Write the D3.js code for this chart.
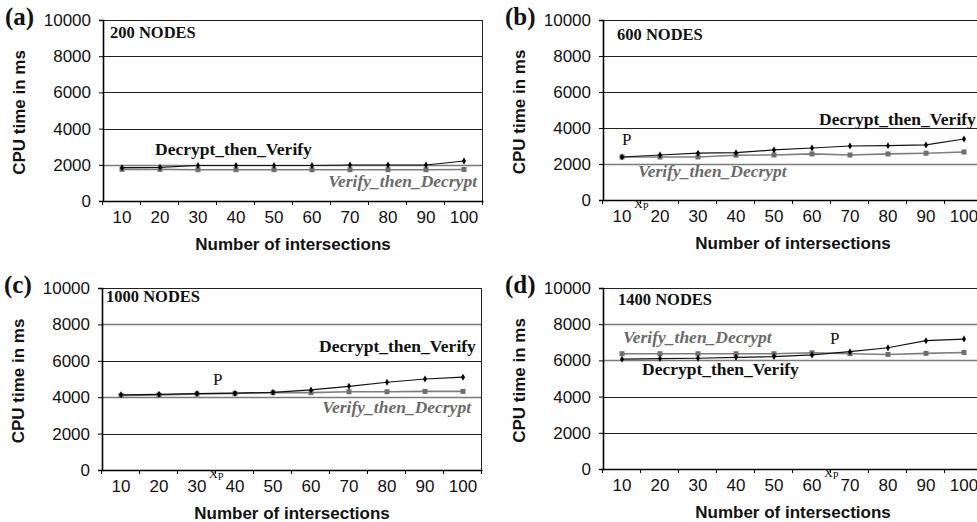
<!DOCTYPE html>
<html>
<head>
<meta charset="utf-8">
<script src="https://cdn.jsdelivr.net/npm/d3@7/dist/d3.min.js"></script>
<style>
  html, body { margin: 0; padding: 0; background: #fff; }
  svg { display: block; }
</style>
</head>
<body>
<svg id="chart" width="977" height="522"></svg>
<script>
// Number of intersections on the x axis
const intersections = ["10", "20", "30", "40", "50", "60", "70", "80", "90", "100"];
const yTicks = [0, 2000, 4000, 6000, 8000, 10000];

// CPU time (ms) per scheme, one pair of series per network size
const decrypt200 = [1840, 1860, 1960, 1960, 1960, 1960, 1990, 1990, 1990, 2210];
const verify200 = [1750, 1750, 1730, 1730, 1730, 1730, 1730, 1730, 1730, 1740];
const decrypt600 = [2390, 2500, 2600, 2630, 2780, 2890, 3000, 3020, 3060, 3390];
const verify600 = [2390, 2390, 2390, 2490, 2500, 2560, 2500, 2560, 2600, 2670];
const decrypt1000 = [4130, 4160, 4200, 4220, 4270, 4400, 4600, 4820, 5000, 5100];
const verify1000 = [4100, 4120, 4180, 4200, 4250, 4250, 4300, 4300, 4320, 4320];
const decrypt1400 = [6070, 6100, 6120, 6170, 6210, 6300, 6480, 6700, 7090, 7180];
const verify1400 = [6370, 6370, 6370, 6370, 6370, 6420, 6370, 6330, 6390, 6440];

const panelTags = ["(a)", "(b)", "(c)", "(d)"];
const nodeTitles = ["200 NODES", "600 NODES", "1000 NODES", "1400 NODES"];
const seriesNames = ["Decrypt_then_Verify", "Verify_then_Decrypt"];
const crossLabel = "P";
// crossing point category (the "xP" tick marker sits right after it); null = none
const crossAfter = [null, "10", "30", "60"];

const SANS = "'Liberation Sans', Arial, Helvetica, sans-serif";
const SERIF = "'Liberation Serif', 'Times New Roman', Times, serif";

// Layout for each panel: plot frame and where its annotations sit (px, relative to frame)
const panels = [
  { x0: 103, top: 20, bottom: 201, dec: decrypt200, ver: verify200,
    grayGrid: [2000],
    nodes: [7, 18], decLbl: [52, 135, "start"], verLbl: [374, 167, "end"], p: null },
  { x0: 603, top: 20, bottom: 200, dec: decrypt600, ver: verify600,
    grayGrid: [2000],
    nodes: [14, 20], decLbl: [216, 105, "start"], verLbl: [35, 157, "start"], p: [19, 125] },
  { x0: 102, top: 288, bottom: 470, dec: decrypt1000, ver: verify1000,
    grayGrid: [8000, 4000],
    nodes: [4, 14], decLbl: [217, 64, "start"], verLbl: [369, 125, "end"], p: [111, 97] },
  { x0: 603, top: 288, bottom: 469, dec: decrypt1400, ver: verify1400,
    grayGrid: [8000, 6000],
    nodes: [15, 17], decLbl: [39, 87, "start"], verLbl: [20, 55, "start"], p: [227, 56] }
];

const svg = d3.select("#chart");
const bandW = 38;

panels.forEach((p, i) => {
  const x = d3.scaleBand().domain(intersections)
    .range([p.x0, p.x0 + bandW * intersections.length]).padding(0);
  const y = d3.scaleLinear().domain([0, 10000]).range([p.bottom, p.top]);
  const right = p.x0 + bandW * intersections.length;
  const g = svg.append("g");

  // horizontal grid lines
  g.selectAll("line.grid").data(yTicks.filter(v => v > 0)).join("line")
    .attr("x1", p.x0).attr("x2", right)
    .attr("y1", d => Math.round(y(d)) + 0.5).attr("y2", d => Math.round(y(d)) + 0.5)
    .attr("stroke", d => p.grayGrid.includes(d) ? "#7a7a7a" : "#222")
    .attr("stroke-width", d => p.grayGrid.includes(d) ? 1.6 : 1);

  // right frame edge
  g.append("line")
    .attr("x1", right - 0.5).attr("x2", right - 0.5)
    .attr("y1", y(10000)).attr("y2", p.bottom + 4)
    .attr("stroke", "#222").attr("stroke-width", 1);

  // y axis
  const yAxis = d3.axisLeft(y).tickValues(yTicks).tickSize(4).tickPadding(8)
    .tickFormat(d3.format("d"));
  const ya = g.append("g").attr("transform", `translate(${p.x0},0)`).call(yAxis);
  ya.select(".domain").attr("stroke", "#000").attr("stroke-width", 1.6);
  ya.selectAll(".tick line").attr("stroke", "#000");
  ya.selectAll("text").attr("font-family", SANS).attr("font-size", 17)
    .attr("fill", "#111");

  // x axis: labels centred in bands, tick marks on band edges
  const xa = g.append("g").attr("transform", `translate(0,${p.bottom})`)
    .call(d3.axisBottom(x).tickSize(0).tickPadding(10));
  xa.select(".domain").attr("stroke", "#000").attr("stroke-width", 1.4);
  xa.selectAll("text").attr("font-family", SANS).attr("font-size", 17)
    .attr("fill", "#111");
  const edges = intersections.map(c => x(c)).concat([right]);
  g.selectAll("line.xt").data(edges).join("line")
    .attr("x1", d => d - 0.5).attr("x2", d => d - 0.5)
    .attr("y1", p.bottom).attr("y2", p.bottom + 4)
    .attr("stroke", "#000").attr("stroke-width", 1);

  // crossing-point marker among the tick labels
  if (crossAfter[i]) {
    const cx = x(crossAfter[i]) + 31;
    const t = g.append("text").attr("x", cx).attr("y", p.bottom + 8)
      .attr("font-family", SERIF).attr("fill", "#111");
    t.append("tspan").attr("font-size", 12).text("X");
    t.append("tspan").attr("font-size", 10.5).attr("dy", 2).text("P");
  }

  // axis titles
  g.append("text")
    .attr("x", p.x0 + bandW * 5).attr("y", p.bottom + 49)
    .attr("text-anchor", "middle").attr("font-family", SANS)
    .attr("font-weight", "bold").attr("font-size", 17).attr("fill", "#111")
    .text("Number of intersections");
  g.append("text")
    .attr("transform", `translate(${p.x0 - 78},${(p.top + p.bottom) / 2 + 2}) rotate(-90)`)
    .attr("text-anchor", "middle").attr("font-family", SANS)
    .attr("font-weight", "bold").attr("font-size", 17).attr("fill", "#111")
    .text("CPU time in ms");

  // panel tag
  g.append("text")
    .attr("x", p.x0 - 98).attr("y", p.top + 5)
    .attr("font-family", SERIF).attr("font-weight", "bold")
    .attr("font-size", 25).attr("fill", "#111")
    .text(panelTags[i]);

  // node-count title
  g.append("text")
    .attr("x", p.x0 + p.nodes[0]).attr("y", p.top + p.nodes[1])
    .attr("font-family", SERIF).attr("font-weight", "bold")
    .attr("font-size", 16.5).attr("fill", "#111")
    .text(nodeTitles[i]);

  // series lines and markers
  const line = d3.line()
    .x((d, k) => x(intersections[k]) + x.bandwidth() / 2)
    .y(d => y(d));

  g.append("path").datum(p.ver).attr("d", line)
    .attr("fill", "none").attr("stroke", "#7d7d7d").attr("stroke-width", 1.6);
  g.selectAll("rect.ver").data(p.ver).join("rect")
    .attr("x", (d, k) => x(intersections[k]) + x.bandwidth() / 2 - 2.5)
    .attr("y", d => y(d) - 2.5)
    .attr("width", 5).attr("height", 5)
    .attr("fill", "#6e6e6e");

  g.append("path").datum(p.dec).attr("d", line)
    .attr("fill", "none").attr("stroke", "#111").attr("stroke-width", 1.2);
  g.selectAll("path.dec").data(p.dec).join("path")
    .attr("transform", (d, k) =>
      `translate(${x(intersections[k]) + x.bandwidth() / 2},${y(d)})`)
    .attr("d", d3.symbol(d3.symbolDiamond, 14))
    .attr("fill", "#000");

  // series labels
  g.append("text")
    .attr("x", p.x0 + p.decLbl[0]).attr("y", p.top + p.decLbl[1])
    .attr("text-anchor", p.decLbl[2])
    .attr("font-family", SERIF).attr("font-weight", "bold")
    .attr("font-size", 17.5).attr("fill", "#111")
    .text(seriesNames[0]);
  g.append("text")
    .attr("x", p.x0 + p.verLbl[0]).attr("y", p.top + p.verLbl[1])
    .attr("text-anchor", p.verLbl[2])
    .attr("font-family", SERIF).attr("font-weight", "bold").attr("font-style", "italic")
    .attr("font-size", 17.5).attr("fill", "#6a6a6a")
    .text(seriesNames[1]);

  if (p.p) {
    g.append("text")
      .attr("x", p.x0 + p.p[0]).attr("y", p.top + p.p[1])
      .attr("font-family", SERIF).attr("font-size", 17).attr("fill", "#111")
      .text(crossLabel);
  }
});
</script>
</body>
</html>
